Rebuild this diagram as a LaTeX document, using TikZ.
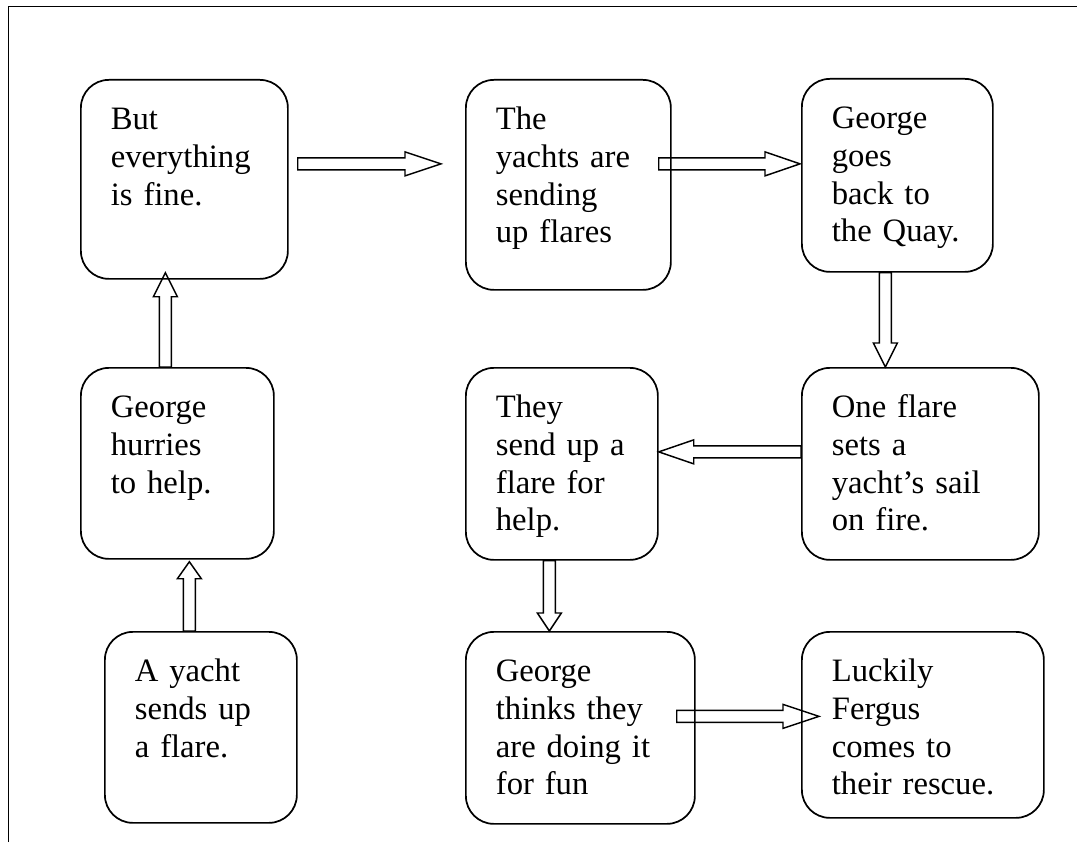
\documentclass[tikz,border=0pt]{standalone}
\usepackage{fontspec}
\setmainfont{Liberation Serif}
\usetikzlibrary{calc}
\hyphenpenalty=10000
% hollow block arrow: #1 head length, #2 tail, #3 tip
\newcommand{\blockarrow}[3]{%
  \coordinate (ba-s) at #2;
  \coordinate (ba-t) at #3;
  \coordinate (ba-b) at ($(ba-t)!#1!(ba-s)$);
  \draw[flow] ($(ba-s)!4.5pt!90:(ba-t)$) -- ($(ba-b)!4.5pt!90:(ba-t)$)
    -- ($(ba-b)!9pt!90:(ba-t)$) -- (ba-t) -- ($(ba-b)!9pt!-90:(ba-t)$)
    -- ($(ba-b)!4.5pt!-90:(ba-t)$) -- ($(ba-s)!4.5pt!-90:(ba-t)$) -- cycle;}

\begin{document}
\begin{tikzpicture}[x=0.75pt, y=-0.75pt,
  story/.style={draw, line width=1.3pt, rounded corners=21pt, anchor=north west,
    align=left, inner xsep=22.5pt, inner ysep=0pt, text height=37.5pt,
    font=\fontsize{24.5}{28.2}\selectfont},
  flow/.style={line width=1.1pt, line join=miter}]
% Page and frame
\fill[white] (0,0) rectangle (1077,842);
\useasboundingbox (0,0) rectangle (1077,842);
\draw[line width=1.4pt] (8.5,842) -- (8.5,6.5) -- (1077,6.5);

% Story boxes
\node[story, text width=110.25pt, text depth=111.75pt] (fine) at (80,79) {But\\everything\\is fine.};
\node[story, text width=108.75pt, text depth=120pt] (flares) at (465,79) {The\\yachts are\\sending\\up flares};
\node[story, text width=98.25pt, text depth=107.25pt] (quay) at (801,78) {George\\goes\\back to\\the Quay.};
\node[story, text width=99.75pt, text depth=105.75pt] (hurries) at (80,367) {George\\hurries\\to help.};
\node[story, text width=99pt, text depth=106.5pt] (help) at (465,367) {They\\send up a\\flare for\\help.};
\node[story, text width=132.75pt, text depth=106.5pt] (sail) at (801,367) {One flare\\sets a\\yacht’s sail\\on fire.};
\node[story, text width=99pt, text depth=105.75pt] (yacht) at (104,631) {A yacht\\sends up\\a flare.};
\node[story, text width=126.75pt, text depth=106.5pt] (fun) at (465,631) {George\\thinks they\\are doing it\\for fun};
\node[story, text width=136.5pt, text depth=102pt] (rescue) at (801,631) {Luckily\\Fergus\\comes to\\their rescue.};

% Block arrows
\blockarrow{12.75pt}{($(yacht.north)+(-11.5,0)$)}{($(hurries.south)+(12,2)$)}
\blockarrow{18pt}{($(hurries.north)+(-12,0)$)}{($(fine.south)+(-19,-7)$)}
\blockarrow{27pt}{($(fine.east)+(9,-15.5)$)}{($(flares.west)+(-24,-21)$)}
\blockarrow{26.25pt}{($(flares.east)+(-13,-21)$)}{($(quay.west)+(-1,-11.5)$)}
\blockarrow{18pt}{($(quay.south)+(-12,0)$)}{($(sail.north)+(-35,0)$)}
\blockarrow{26.25pt}{($(sail.west)+(0,-12)$)}{($(help.east)+(0,-12)$)}
\blockarrow{13.5pt}{($(help.south)+(-12.5,0)$)}{($(fun.north)+(-31,0)$)}
\blockarrow{27pt}{($(fun.east)+(-19,-11.5)$)}{($(rescue.west)+(18,-8.5)$)}
\end{tikzpicture}
\end{document}
